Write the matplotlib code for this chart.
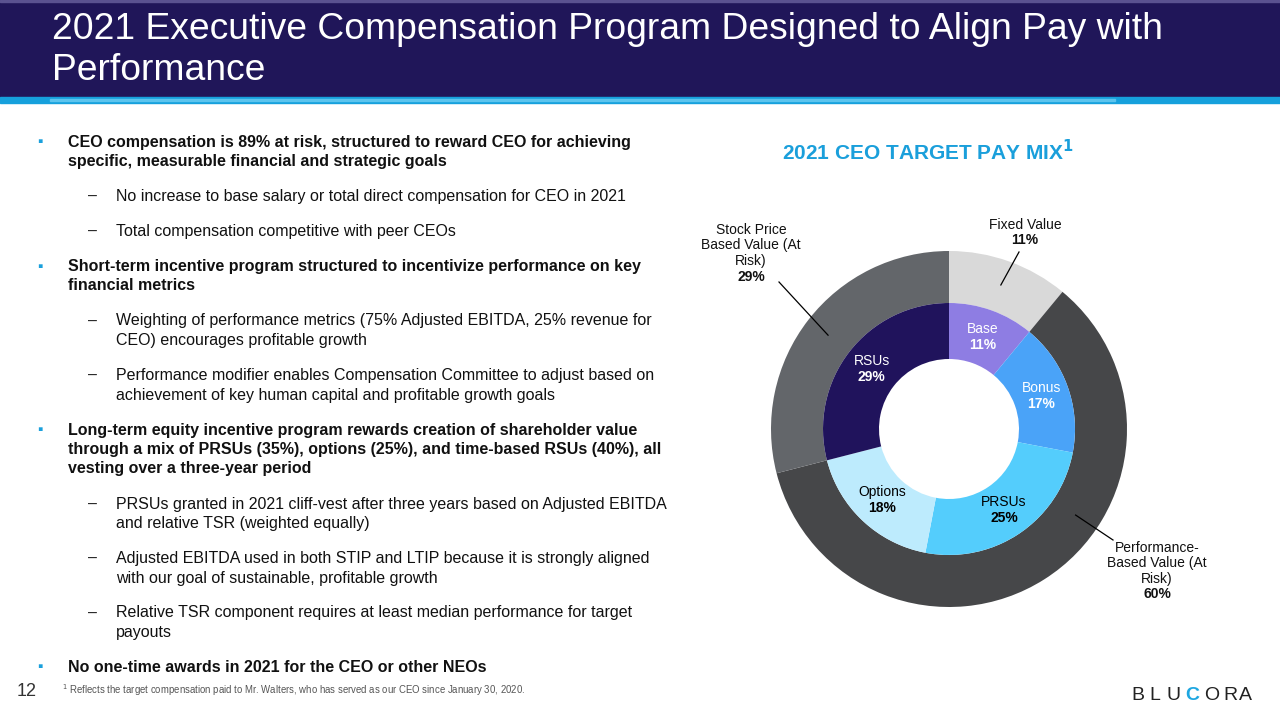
import numpy as np
import matplotlib.pyplot as plt
from matplotlib.patches import Rectangle

plt.rcParams['font.family'] = ['Liberation Sans', 'DejaVu Sans']

W, H = 1280, 720

# ---- data ----
inner_labels = ['Base', 'Bonus', 'PRSUs', 'Options', 'RSUs']
inner_values = [11, 17, 25, 18, 29]
inner_colors = ['#8e7de3', '#4aa3f8', '#54cdfc', '#bdebfd', '#20135c']
inner_text_colors = ['white', 'white', 'black', 'black', 'white']

outer_labels = ['Fixed Value', 'Performance-\nBased Value (At\nRisk)', 'Stock Price\nBased Value (At\nRisk)']
outer_values = [11, 60, 29]
outer_colors = ['#d9d9d9', '#464749', '#63666a']

title = '2021 Executive Compensation Program Designed to Align Pay with\nPerformance'
chart_title = '2021 CEO TARGET PAY MIX'

bullets = [
    (0, ['CEO compensation is 89% at risk, structured to reward CEO for achieving',
         'specific, measurable financial and strategic goals']),
    (1, ['No increase to base salary or total direct compensation for CEO in 2021']),
    (1, ['Total compensation competitive with peer CEOs']),
    (0, ['Short-term incentive program structured to incentivize performance on key',
         'financial metrics']),
    (1, ['Weighting of performance metrics (75% Adjusted EBITDA, 25% revenue for',
         'CEO) encourages profitable growth']),
    (1, ['Performance modifier enables Compensation Committee to adjust based on',
         'achievement of key human capital and profitable growth goals']),
    (0, ['Long-term equity incentive program rewards creation of shareholder value',
         'through a mix of PRSUs (35%), options (25%), and time-based RSUs (40%), all',
         'vesting over a three-year period']),
    (1, ['PRSUs granted in 2021 cliff-vest after three years based on Adjusted EBITDA',
         'and relative TSR (weighted equally)']),
    (1, ['Adjusted EBITDA used in both STIP and LTIP because it is strongly aligned',
         'with our goal of sustainable, profitable growth']),
    (1, ['Relative TSR component requires at least median performance for target',
         'payouts']),
    (0, ['No one-time awards in 2021 for the CEO or other NEOs']),
]

footnote = 'Reflects the target compensation paid to Mr. Walters, who has served as our CEO since January 30, 2020.'
page_no = '12'
logo = 'BLUCORA'


def fx(x):
    return x / W


def fy(y):
    return 1 - y / H


fig = plt.figure(figsize=(12.8, 7.2), dpi=100)

# header band
fig.patches.append(Rectangle((0, fy(97)), 1, 97 / H, transform=fig.transFigure,
                             color='#201659', zorder=0))
fig.patches.append(Rectangle((0, fy(103)), 1, 6 / H, transform=fig.transFigure,
                             color='#16a0dc', zorder=0))
fig.patches.append(Rectangle((fx(50), fy(101)), fx(1065), 2 / H, transform=fig.transFigure,
                             color='#5cc4ee', zorder=1))
fig.patches.append(Rectangle((0, fy(2)), 1, 2 / H, transform=fig.transFigure,
                             color='#5a5290', zorder=1))
fig.text(fx(52), fy(50), title, color='white', fontsize=26.8, ha='left', va='center',
         linespacing=1.25)

# bullet text
y = 142
for level, lines in bullets:
    if level == 0:
        fig.text(fx(40), fy(y), '\u25aa', color='#1aa0dc', fontsize=11, ha='center', va='center')
        x0, weight = 68, 'bold'
    else:
        fig.text(fx(93), fy(y), '\u2013', color='#222222', fontsize=11.5, ha='center', va='center')
        x0, weight = 116, 'normal'
    for ln in lines:
        fig.text(fx(x0), fy(y), ln, fontsize=11.5, fontweight=weight, color='#111111',
                 ha='left', va='center')
        y += 19.5
    y += 35 - 19.5

# chart title
fig.text(fx(928), fy(152), chart_title + r'$^{\mathbf{1}}$', color='#1a9fdb', fontsize=15,
         fontweight='bold', ha='center', va='center')

# donut
cx, cy, R = 949, 429, 178
ax = fig.add_axes([fx(cx - R), fy(cy + R), 2 * R / W, 2 * R / H])
r_in_outer = 126 / R
r_hole = 70 / R
ax.pie(outer_values, colors=outer_colors, radius=1.0, startangle=90, counterclock=False,
       wedgeprops=dict(width=1 - r_in_outer, linewidth=0))
ax.pie(inner_values, colors=inner_colors, radius=r_in_outer, startangle=90, counterclock=False,
       wedgeprops=dict(width=r_in_outer - r_hole, linewidth=0))
ax.set_xlim(-1, 1)
ax.set_ylim(-1, 1)
ax.set_aspect('auto')
ax.axis('off')

# inner labels
tot = sum(inner_values)
cum = 0
r_lab = (r_in_outer + r_hole) / 2
for lab, v, tc in zip(inner_labels, inner_values, inner_text_colors):
    a = np.deg2rad(90 - (cum + v / 2) / tot * 360)
    x, yy = r_lab * np.cos(a), r_lab * np.sin(a)
    ax.text(x, yy + 0.045, lab, color=tc, fontsize=10, ha='center', va='center')
    ax.text(x, yy - 0.045, f'{v}%', color=tc, fontsize=10, fontweight='bold',
            ha='center', va='center')
    cum += v

# outer labels with leader lines
anchor_frac = [0.055, 0.345, 0.855]
text_top = [(1025, 225), (1157, 548), (751, 230)]
line_ends = [(1019, 252), (1113, 540), (779, 282)]
step = 15.5
for lab, v, fr, (tx, ty), (lx, ly) in zip(outer_labels, outer_values, anchor_frac, text_top, line_ends):
    a = np.deg2rad(90 - fr * 360)
    r_anchor = 0.86
    px0, py0 = r_anchor * np.cos(a), r_anchor * np.sin(a)
    ex, ey = (lx - cx) / R, (cy - ly) / R
    ax.plot([px0, ex], [py0, ey], color='black', lw=0.9, clip_on=False)
    rows = lab.split('\n')
    for i, row in enumerate(rows):
        fig.text(fx(tx), fy(ty + i * step), row, fontsize=10, ha='center', va='center',
                 color='#111111')
    fig.text(fx(tx), fy(ty + len(rows) * step), f'{v}%', fontsize=10, fontweight='bold',
             ha='center', va='center', color='#111111')

# footer
fig.text(fx(27), fy(692), page_no, fontsize=13, color='#333333', ha='center', va='center')
fig.text(fx(62), fy(690), '$^{1}$ ' + footnote, fontsize=6.9, color='#555555',
         ha='left', va='center')
logo_x = [1138, 1155, 1173, 1192, 1212, 1230, 1245]
for ch, lx in zip(logo, logo_x):
    col = '#1ea7e1' if ch == 'C' else '#222222'
    fig.text(fx(lx), fy(695), ch, fontsize=14, color=col, ha='center', va='center',
             fontweight='bold' if ch == 'C' else 'normal')

fig.savefig('out.png', dpi=100, facecolor='white')
